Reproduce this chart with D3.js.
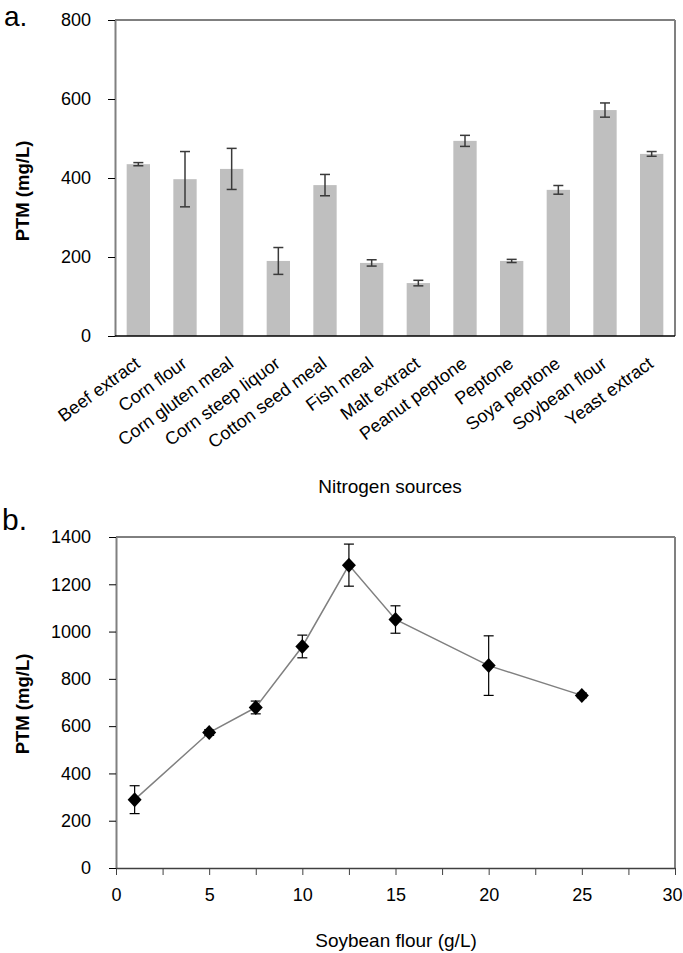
<!DOCTYPE html>
<html>
<head>
<meta charset="utf-8">
<script src="https://cdn.jsdelivr.net/npm/d3@7/dist/d3.min.js"></script>
<style>
  body { margin: 0; background: #fff; }
  svg text { font-family: "Liberation Sans", Arial, sans-serif; fill: #000; }
</style>
</head>
<body>
<svg id="fig" width="683" height="953"></svg>
<script>
// panel a: PTM for each nitrogen source
const nitrogenSources = [
  'Beef extract', 'Corn flour', 'Corn gluten meal', 'Corn steep liquor',
  'Cotton seed meal', 'Fish meal', 'Malt extract', 'Peanut peptone',
  'Peptone', 'Soya peptone', 'Soybean flour', 'Yeast extract'
];
const ptmBySource = [435, 397, 423, 190, 382, 185, 134, 494, 190, 370, 572, 461];
const ptmSourceErr = [4, 70, 52, 34, 27, 8, 7, 14, 4, 11, 18, 6];
const yTicksA = [0, 200, 400, 600, 800];

// panel b: PTM against soybean flour concentration
const soybeanLevels = [1, 5, 7.5, 10, 12.5, 15, 20, 25];
const ptmBySoybean = [289, 573, 679, 937, 1281, 1051, 856, 730];
const ptmSoybeanErr = [59, 12, 27, 48, 89, 58, 126, 10];
const yTicksB = [0, 200, 400, 600, 800, 1000, 1200, 1400];
const xTicksB = [0, 2.5, 5, 7.5, 10, 12.5, 15, 17.5, 20, 22.5, 25, 27.5, 30];

const TICK_FONT = 18;
const svg = d3.select('#fig');

// ---------------- panel a ----------------
const A = {left: 115, right: 675, top: 20, bottom: 336};

const xA = d3.scaleBand()
  .domain(nitrogenSources)
  .range([A.left, A.right])
  .paddingInner(0.5)
  .paddingOuter(0.25);
const yA = d3.scaleLinear().domain([0, 800]).range([A.bottom, A.top]);

const gA = svg.append('g');

// frame: top black, right grey
gA.append('line').attr('x1', A.left).attr('x2', A.right).attr('y1', A.top).attr('y2', A.top)
  .attr('stroke', '#000').attr('stroke-width', 1);
gA.append('line').attr('x1', A.right).attr('x2', A.right).attr('y1', A.top).attr('y2', A.bottom)
  .attr('stroke', '#808080').attr('stroke-width', 2);

const barData = nitrogenSources.map((s, i) => ({source: s, v: ptmBySource[i], e: ptmSourceErr[i]}));

gA.selectAll('.bar')
  .data(barData)
  .enter()
  .append('rect')
  .classed('bar', true)
  .attr('x', d => xA(d.source))
  .attr('width', xA.bandwidth())
  .attr('y', d => yA(d.v))
  .attr('height', d => A.bottom - yA(d.v))
  .attr('fill', '#bfbfbf');

const errA = gA.selectAll('.err')
  .data(barData)
  .enter()
  .append('g')
  .classed('err', true)
  .attr('stroke', '#3a3a3a')
  .attr('stroke-width', 1.5);
errA.append('line')
  .attr('x1', d => xA(d.source) + xA.bandwidth() / 2)
  .attr('x2', d => xA(d.source) + xA.bandwidth() / 2)
  .attr('y1', d => yA(d.v + d.e))
  .attr('y2', d => yA(d.v - d.e));
[1, -1].forEach(sign => {
  errA.append('line')
    .attr('x1', d => xA(d.source) + xA.bandwidth() / 2 - 5)
    .attr('x2', d => xA(d.source) + xA.bandwidth() / 2 + 5)
    .attr('y1', d => yA(d.v + sign * d.e))
    .attr('y2', d => yA(d.v + sign * d.e));
});

// y axis
const yAxisA = gA.append('g')
  .attr('transform', `translate(${A.left},0)`)
  .call(d3.axisLeft(yA).tickValues(yTicksA).tickFormat(d3.format('d'))
    .tickSize(7).tickPadding(17).tickSizeOuter(0));
yAxisA.attr('font-size', TICK_FONT).attr('font-family', null);
yAxisA.select('.domain').attr('stroke', '#808080').attr('stroke-width', 2);
yAxisA.selectAll('.tick line').attr('stroke', '#000');

// x axis line and rotated labels
gA.append('line').attr('x1', A.left).attr('x2', A.right).attr('y1', A.bottom).attr('y2', A.bottom)
  .attr('stroke', '#000').attr('stroke-width', 1.5);

gA.selectAll('.cat')
  .data(nitrogenSources)
  .enter()
  .append('text')
  .classed('cat', true)
  .attr('transform', d => `translate(${xA(d) + xA.bandwidth() / 2 + 3},366) rotate(-36)`)
  .attr('text-anchor', 'end')
  .attr('font-size', 18)
  .text(d => d);

gA.append('text')
  .attr('x', 390).attr('y', 493)
  .attr('text-anchor', 'middle')
  .attr('font-size', 19)
  .text('Nitrogen sources');

gA.append('text')
  .attr('transform', 'translate(29,191) rotate(-90)')
  .attr('text-anchor', 'middle')
  .attr('font-size', 18.5)
  .attr('font-weight', 'bold')
  .text('PTM (mg/L)');

gA.append('text')
  .attr('x', 4).attr('y', 26)
  .attr('font-size', 28)
  .text('a.');

// ---------------- panel b ----------------
const B = {left: 116, right: 675, top: 537, bottom: 868};

const xB = d3.scaleLinear().domain([0, 30]).range([B.left, B.right]);
const yB = d3.scaleLinear().domain([0, 1400]).range([B.bottom, B.top]);

const gB = svg.append('g');

gB.append('line').attr('x1', B.left).attr('x2', B.right).attr('y1', B.top).attr('y2', B.top)
  .attr('stroke', '#000').attr('stroke-width', 1);
gB.append('line').attr('x1', B.right).attr('x2', B.right).attr('y1', B.top).attr('y2', B.bottom)
  .attr('stroke', '#808080').attr('stroke-width', 2);

const yAxisB = gB.append('g')
  .attr('transform', `translate(${B.left},0)`)
  .call(d3.axisLeft(yB).tickValues(yTicksB).tickFormat(d3.format('d'))
    .tickSize(7).tickPadding(18).tickSizeOuter(0));
yAxisB.attr('font-size', TICK_FONT).attr('font-family', null);
yAxisB.select('.domain').attr('stroke', '#808080').attr('stroke-width', 2);
yAxisB.selectAll('.tick line').attr('stroke', '#000');

const xAxisB = gB.append('g')
  .attr('transform', `translate(0,${B.bottom})`)
  .call(d3.axisBottom(xB).tickValues(xTicksB).tickSize(7).tickPadding(13).tickSizeOuter(0)
    .tickFormat(d => (d % 5 === 0 ? d : '')));
xAxisB.attr('font-size', TICK_FONT).attr('font-family', null);
xAxisB.select('.domain').attr('stroke', '#404040').attr('stroke-width', 1.5);
xAxisB.selectAll('.tick line').attr('stroke', '#404040');
xAxisB.selectAll('.tick text').filter(d => d === 30).attr('dx', -3);

const pts = soybeanLevels.map((x, i) => ({x: x, v: ptmBySoybean[i], e: ptmSoybeanErr[i]}));

const errB = gB.selectAll('.errb')
  .data(pts)
  .enter()
  .append('g')
  .classed('errb', true)
  .attr('stroke', '#000')
  .attr('stroke-width', 1.2);
errB.append('line')
  .attr('x1', d => xB(d.x)).attr('x2', d => xB(d.x))
  .attr('y1', d => yB(d.v + d.e)).attr('y2', d => yB(d.v - d.e));
[1, -1].forEach(sign => {
  errB.append('line')
    .attr('x1', d => xB(d.x) - 5).attr('x2', d => xB(d.x) + 5)
    .attr('y1', d => yB(d.v + sign * d.e)).attr('y2', d => yB(d.v + sign * d.e));
});

gB.append('path')
  .datum(pts)
  .attr('fill', 'none')
  .attr('stroke', '#808080')
  .attr('stroke-width', 1.5)
  .attr('d', d3.line().x(d => xB(d.x)).y(d => yB(d.v)));

gB.selectAll('.pt')
  .data(pts)
  .enter()
  .append('path')
  .classed('pt', true)
  .attr('transform', d => `translate(${xB(d.x)},${yB(d.v)})`)
  .attr('d', 'M0,-7.5L7,0L0,7.5L-7,0Z')
  .attr('fill', '#000');

gB.append('text')
  .attr('x', 396).attr('y', 947)
  .attr('text-anchor', 'middle')
  .attr('font-size', 19)
  .text('Soybean flour (g/L)');

gB.append('text')
  .attr('transform', 'translate(29,704) rotate(-90)')
  .attr('text-anchor', 'middle')
  .attr('font-size', 18.5)
  .attr('font-weight', 'bold')
  .text('PTM (mg/L)');

gB.append('text')
  .attr('x', 2).attr('y', 530)
  .attr('font-size', 30)
  .text('b.');
</script>
</body>
</html>
